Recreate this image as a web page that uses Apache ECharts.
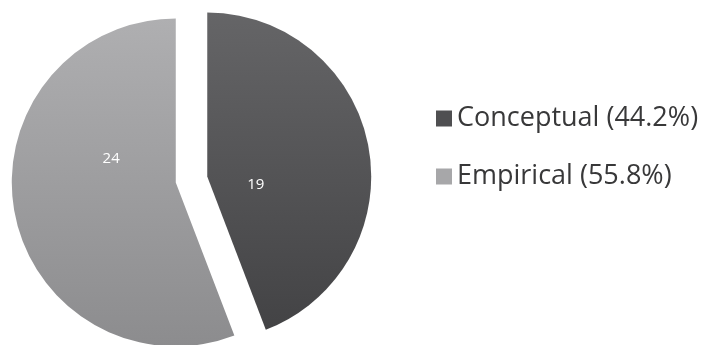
<!DOCTYPE html>
<html>
<head>
<meta charset="utf-8">
<script src="https://cdn.jsdelivr.net/npm/echarts@6/dist/echarts.min.js"></script>
<style>
  html, body { margin: 0; padding: 0; background: #ffffff; }
  #chart { width: 703px; height: 345px; }
</style>
</head>
<body>
<div id="chart"></div>
<script>
// Article types and their counts
const categories = ['Conceptual', 'Empirical'];
const counts = [19, 24];

// Slice shading (top -> bottom) and legend swatch colours
const sliceTop = ['#656567', '#afafb1'];
const sliceBottom = ['#434345', '#8c8c8e'];
const swatch = ['#4f4f51', '#a7a7a9'];

// Nudges for the in-slice count labels
const labelNudge = [[-35, 24], [19, -39]];

const total = counts.reduce((a, b) => a + b, 0);
const pctText = (v) => (v / total * 100).toFixed(1) + '%';

const chart = echarts.init(document.getElementById('chart'), null, { renderer: 'canvas' });

const data = categories.map((name, i) => ({
  name: name,
  value: counts[i],
  selected: true,
  itemStyle: {
    color: new echarts.graphic.LinearGradient(0, 0, 0, 1, [
      { offset: 0, color: sliceTop[i] },
      { offset: 1, color: sliceBottom[i] }
    ])
  }
}));

chart.setOption({
  animation: false,
  backgroundColor: '#ffffff',
  legend: {
    orient: 'vertical',
    left: 431,
    top: 100,
    itemWidth: 16,
    itemHeight: 16,
    itemGap: 31,
    icon: 'rect',
    selectedMode: false,
    data: categories.map((name, i) => ({ name: name, itemStyle: { color: swatch[i] } })),
    formatter: (name) => {
      const i = categories.indexOf(name);
      return name + ' (' + pctText(counts[i]) + ')';
    },
    textStyle: {
      fontFamily: 'Open Sans',
      fontSize: 27,
      lineHeight: 27,
      color: '#383839'
    }
  },
  series: [{
    type: 'pie',
    center: [191.5, 179.5],
    radius: 164,
    startAngle: 90,
    clockwise: true,
    selectedMode: 'multiple',
    selectedOffset: 16,
    emphasis: { disabled: true },
    label: {
      show: true,
      position: 'inside',
      formatter: '{c}',
      color: '#ffffff',
      fontFamily: 'Open Sans',
      fontSize: 15
    },
    labelLine: { show: false },
    labelLayout: (params) => ({
      dx: labelNudge[params.dataIndex][0],
      dy: labelNudge[params.dataIndex][1]
    }),
    data: data
  }]
});
</script>
</body>
</html>
